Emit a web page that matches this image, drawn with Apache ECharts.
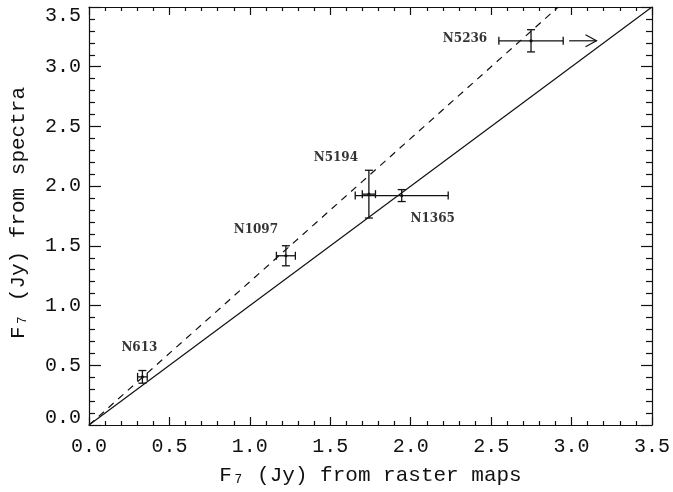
<!DOCTYPE html>
<html>
<head>
<meta charset="utf-8">
<script src="https://cdn.jsdelivr.net/npm/echarts@6/dist/echarts.min.js"></script>
<style>
  html, body { margin: 0; padding: 0; background: #fff; }
  #chart { width: 673px; height: 492px; }
</style>
</head>
<body>
<div id="chart"></div>
<script>
// Galaxy names and 7 micron fluxes (Jy): raster maps vs spectra
const galaxies = ['N613', 'N1097', 'N5194', 'N1365', 'N5236'];
const fluxRaster = [0.332, 1.224, 1.740, 1.944, 2.748];
const fluxSpectra = [0.403, 1.417, 1.933, 1.921, 3.217];
const errRaster = [0.030, 0.059, 0.041, 0.289, 0.200];
const errSpectra = [0.053, 0.084, 0.200, 0.050, 0.093];

// Lower limit on the raster flux of N5236 (arrow start and tip, in Jy)
const limitArrow = [[2.985, 3.217, 3.155]];

// One-to-one relation and the steeper dashed relation
const lineOneToOne = [[0, 0], [3.5, 3.5]];
const lineDashed = [[0, 0], [2.917, 3.5]];

const tickLabels = ['0.0', '0.5', '1.0', '1.5', '2.0', '2.5', '3.0', '3.5'];

const ink = '#111';
const mono = '"Liberation Mono", "DejaVu Sans Mono", monospace';

const errData = galaxies.map((g, i) => [fluxRaster[i], fluxSpectra[i], errRaster[i], errSpectra[i]]);
const labelData = galaxies.map((g, i) => [fluxRaster[i], fluxSpectra[i], g]);

// pixel offsets of the name tags from each galaxy's point
const tagOffset = {
  N613: [-3, -29],
  N1097: [-30, -26],
  N5194: [-33, -36],
  N1365: [31, 23],
  N5236: [-66, -2]
};

function fmt(v) {
  const i = Math.round(v / 0.5);
  return tickLabels[i] !== undefined ? tickLabels[i] : v.toFixed(1);
}

function axisBase(pos, major, minor, showLabel) {
  return {
    type: 'value',
    min: 0,
    max: 3.5,
    interval: 0.5,
    position: pos,
    splitLine: { show: false },
    axisLine: { show: true, onZero: false, lineStyle: { color: ink, width: 1.2 } },
    axisTick: { show: true, inside: true, length: major, lineStyle: { color: ink, width: 1.2 } },
    minorTick: { show: true, splitNumber: 5, length: minor, lineStyle: { color: ink, width: 1.2 } },
    axisLabel: { show: showLabel }
  };
}

const chart = echarts.init(document.getElementById('chart'), null, { renderer: 'canvas' });

const xBottom = axisBase('bottom', 8, 4, true);
xBottom.axisLabel = {
  show: true, margin: 12, color: ink, fontFamily: mono, fontSize: 20,
  formatter: fmt
};
xBottom.name = 'F\u2087 (Jy) from raster maps';
xBottom.nameLocation = 'middle';
xBottom.nameGap = 40;
xBottom.nameTextStyle = { color: ink, fontFamily: mono, fontSize: 21 };

const xTop = axisBase('top', 8, 4, false);

const yLeft = axisBase('left', 12, 6, true);
const richBase = { color: ink, fontFamily: mono, fontSize: 20 };
yLeft.axisLabel = {
  show: true, margin: 8, color: ink, fontFamily: mono, fontSize: 20,
  formatter: function (v) {
    if (v === 0) return '{lo|' + fmt(v) + '}';
    if (v === 3.5) return '{hi|' + fmt(v) + '}';
    return fmt(v);
  },
  rich: {
    lo: Object.assign({ padding: [0, 0, 14, 0] }, richBase),
    hi: Object.assign({ padding: [18, 0, 0, 0] }, richBase)
  }
};
yLeft.name = 'F\u2087 (Jy) from spectra';
yLeft.nameLocation = 'middle';
yLeft.nameGap = 60;
yLeft.nameTextStyle = { color: ink, fontFamily: mono, fontSize: 21, padding: [0, 0, 0, 6] };

const yRight = axisBase('right', 11, 6, false);

const lineStyleBase = { color: ink, width: 1.2 };

chart.setOption({
  animation: false,
  backgroundColor: '#fff',
  grid: { left: 88, right: 19, top: 7, bottom: 67 },
  xAxis: [xBottom, xTop],
  yAxis: [yLeft, yRight],
  series: [
    {
      type: 'line',
      data: lineOneToOne,
      showSymbol: false,
      lineStyle: Object.assign({ type: 'solid' }, lineStyleBase),
      z: 2
    },
    {
      type: 'line',
      data: lineDashed,
      showSymbol: false,
      lineStyle: Object.assign({ type: [7, 6] }, lineStyleBase),
      z: 2
    },
    {
      type: 'custom',
      data: errData,
      encode: { x: 0, y: 1 },
      renderItem: function (params, api) {
        const x = api.value(0), y = api.value(1), ex = api.value(2), ey = api.value(3);
        const l = api.coord([x - ex, y]);
        const r = api.coord([x + ex, y]);
        const t = api.coord([x, y + ey]);
        const b = api.coord([x, y - ey]);
        const c = api.coord([x, y]);
        const cap = 4;
        const style = { stroke: ink, lineWidth: 1.3, fill: null };
        const seg = (x1, y1, x2, y2) => ({ type: 'line', shape: { x1, y1, x2, y2 }, style });
        return {
          type: 'group',
          children: [
            seg(l[0], l[1], r[0], r[1]),
            seg(l[0], l[1] - cap, l[0], l[1] + cap),
            seg(r[0], r[1] - cap, r[0], r[1] + cap),
            seg(t[0], t[1], b[0], b[1]),
            seg(t[0] - cap, t[1], t[0] + cap, t[1]),
            seg(b[0] - cap, b[1], b[0] + cap, b[1]),
            { type: 'circle', shape: { cx: c[0], cy: c[1], r: 1.6 }, style: { fill: ink } }
          ]
        };
      },
      z: 3
    },
    {
      type: 'custom',
      data: limitArrow,
      encode: { x: [0, 2], y: 1 },
      renderItem: function (params, api) {
        const a = api.coord([api.value(0), api.value(1)]);
        const b = api.coord([api.value(2), api.value(1)]);
        const style = { stroke: ink, lineWidth: 1.2, fill: 'none' };
        return {
          type: 'group',
          children: [
            { type: 'line', shape: { x1: a[0], y1: a[1], x2: b[0], y2: b[1] }, style },
            { type: 'polyline', shape: { points: [[b[0] - 11, b[1] - 6], [b[0], b[1]], [b[0] - 11, b[1] + 6]] }, style }
          ]
        };
      },
      z: 3
    },
    {
      type: 'scatter',
      data: labelData.map(d => ({
        value: d,
        label: { offset: tagOffset[d[2]] }
      })),
      symbolSize: 0,
      silent: true,
      label: {
        show: true,
        position: 'inside',
        formatter: p => p.value[2],
        color: '#000',
        fontFamily: '"DejaVu Serif", serif',
        fontWeight: 'bold',
        fontSize: 12
      },
      z: 4
    }
  ]
});
</script>
</body>
</html>
